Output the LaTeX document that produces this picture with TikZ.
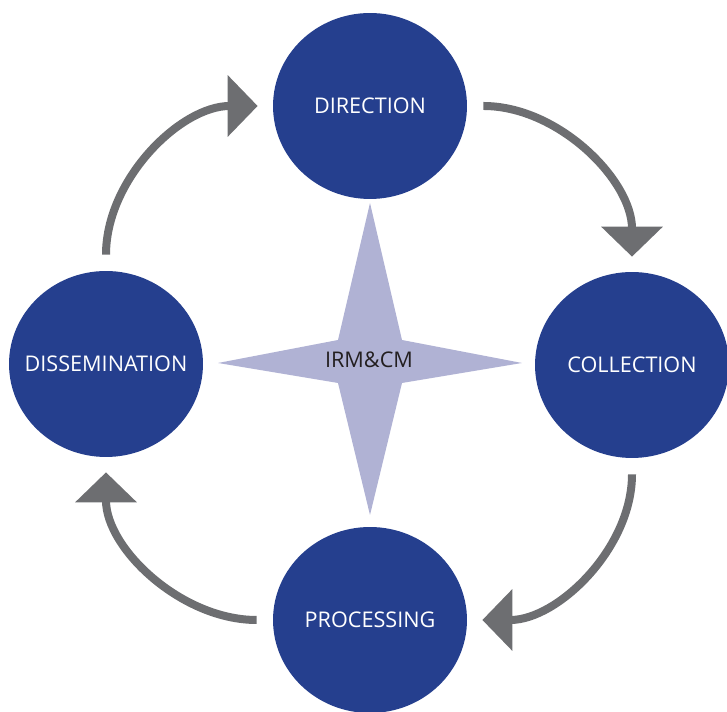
\documentclass[tikz,border=0pt]{standalone}
\usepackage{fontspec}
\setmainfont{Open Sans}
\usepackage{xcolor}
\usepackage{tikz}
\usetikzlibrary{arrows.meta,shapes.geometric}
\definecolor{cycleblue}{HTML}{253F8E}
\definecolor{cyclegrey}{HTML}{6D6E71}
\definecolor{corelilac}{HTML}{B0B2D4}
\definecolor{coretext}{HTML}{231F20}

\begin{document}
\begin{tikzpicture}[
  x=0.02cm, y=0.02cm,
  font=\fontsize{12.3}{14}\selectfont,
  phase/.style={ellipse, fill=cycleblue, draw=none, inner sep=0pt,
                minimum width=3.88cm, minimum height=3.72cm,
                label={[text=white]center:#1}},
  flow/.style={-{Triangle[length=0.6cm,width=1.2cm]}, line width=0.16cm,
               cyclegrey, shorten <=0.32cm, shorten >=0.3cm},
]
\useasboundingbox (0,0) rectangle (727,712);

% ── intelligence cycle phases ───────────────────────────────────────────────
\node[phase=DIRECTION]     (dir)  at (370,606) {};
\node[phase=COLLECTION]    (coll) at (632,347) {};
\node[phase=PROCESSING]    (proc) at (370,92)  {};
\node[phase=DISSEMINATION] (diss) at (106,348) {};

% four-pointed star in the middle
\fill[corelilac] (370,509) -- (402,372) -- (522,349) -- (402,329)
  -- (370,197) -- (338,329) -- (218,349) -- (338,372) -- cycle;
\node[text=coretext] (core) at (369,352) {IRM\&CM};

% ── clockwise arrows between phases ─────────────────────────────────────────
\draw[flow] (diss.north) to[out=90, in=180] (dir.west);
\draw[flow] (dir.east)   to[out=0,  in=90]  (coll.north);
\draw[flow] (coll.south) to[out=-90, in=0]  (proc.east);
\draw[flow] (proc.west)  to[out=180, in=-90] (diss.south);
\end{tikzpicture}
\end{document}
